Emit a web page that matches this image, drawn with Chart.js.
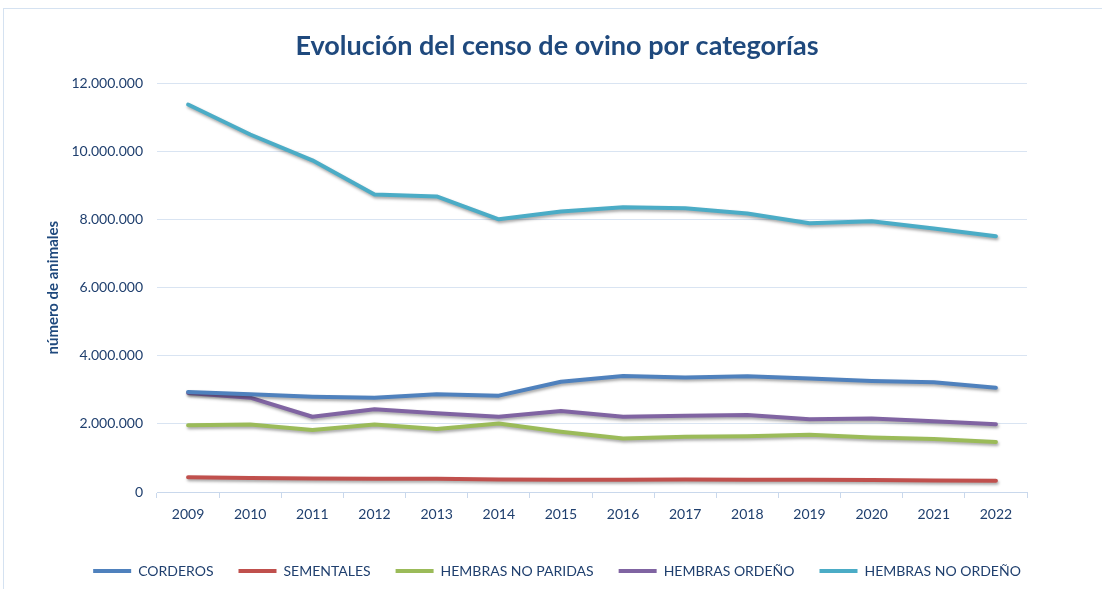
<!DOCTYPE html>
<html>
<head>
<meta charset="utf-8">
<script src="https://cdn.jsdelivr.net/npm/chart.js@4/dist/chart.umd.min.js"></script>
<style>
  html, body { margin: 0; padding: 0; background: #fff; }
  #frame {
    position: absolute; left: 3px; top: 8px; width: 1110px; height: 600px;
    border-left: 1px solid #d5e2f1; border-top: 1px solid #d5e2f1;
  }
  #wrap { position: absolute; left: 0; top: 0; width: 1102px; height: 589px; }
</style>
</head>
<body>
<div id="frame"></div>
<div id="wrap"><canvas id="chart"></canvas></div>
<script>
const anios = ["2009", "2010", "2011", "2012", "2013", "2014", "2015", "2016", "2017", "2018", "2019", "2020", "2021", "2022"];

const corderos = [2940000, 2870000, 2800000, 2770000, 2870000, 2830000, 3240000, 3410000, 3360000, 3400000, 3330000, 3260000, 3220000, 3060000];
const sementales = [430000, 410000, 400000, 390000, 390000, 370000, 360000, 360000, 370000, 360000, 360000, 350000, 340000, 330000];
const hembrasNoParidas = [1960000, 1980000, 1820000, 1980000, 1850000, 2010000, 1770000, 1570000, 1620000, 1640000, 1680000, 1600000, 1560000, 1470000];
const hembrasOrdeno = [2910000, 2770000, 2210000, 2430000, 2310000, 2210000, 2380000, 2210000, 2240000, 2260000, 2140000, 2160000, 2080000, 1990000];
const hembrasNoOrdeno = [11380000, 10500000, 9740000, 8740000, 8680000, 8010000, 8240000, 8360000, 8330000, 8180000, 7890000, 7950000, 7740000, 7510000];

const azulTexto = "#1f3f6e";

function serie(label, data, color) {
    return {
        label: label,
        data: data,
        borderColor: color,
        backgroundColor: color,
        borderWidth: 4,
        pointRadius: 0,
        pointHoverRadius: 0,
        pointStyle: "line",
        tension: 0,
        borderCapStyle: "round",
        borderJoinStyle: "round",
    };
}

// sombra suave bajo las lineas
const sombra = {
    id: "sombra",
    beforeDatasetsDraw(chart) {
        const ctx = chart.ctx;
        ctx.save();
        ctx.shadowColor = "rgba(0, 0, 0, 0.35)";
        ctx.shadowBlur = 3;
        ctx.shadowOffsetX = 1;
        ctx.shadowOffsetY = 2;
    },
    afterDatasetsDraw(chart) {
        chart.ctx.restore();
    },
};

new Chart(document.getElementById("chart"), {
    type: "line",
    data: {
        labels: anios,
        datasets: [
            serie("CORDEROS", corderos, "#4f81bd"),
            serie("SEMENTALES", sementales, "#c0504d"),
            serie("HEMBRAS NO PARIDAS", hembrasNoParidas, "#9bbb59"),
            serie("HEMBRAS ORDEÑO", hembrasOrdeno, "#8064a2"),
            serie("HEMBRAS NO ORDEÑO", hembrasNoOrdeno, "#4bacc6"),
        ],
    },
    options: {
        responsive: true,
        maintainAspectRatio: false,
        animation: false,
        layout: {
            padding: { left: 38, right: 26, top: 30, bottom: 1 },
        },
        plugins: {
            title: {
                display: true,
                text: "Evolución del censo de ovino por categorías",
                color: "#1f497d",
                font: { family: "Lato", size: 27, weight: "bold" },
                padding: { top: 0, bottom: 21 },
            },
            legend: {
                position: "bottom",
                labels: {
                    color: azulTexto,
                    font: { family: "Lato", size: 14 },
                    usePointStyle: true,
                    pointStyleWidth: 38,
                    boxHeight: 5,
                    padding: 25,
                },
            },
            tooltip: { enabled: false },
        },
        scales: {
            x: {
                offset: true,
                afterFit: (scale) => {
                    scale.height = 47;
                },
                grid: {
                    offset: true,
                    drawOnChartArea: false,
                    drawTicks: true,
                    tickLength: 6,
                    color: "#c9d8ec",
                },
                border: { color: "#c9d8ec" },
                ticks: {
                    color: azulTexto,
                    font: { family: "Lato", size: 14 },
                    padding: 8,
                    maxRotation: 0,
                },
            },
            y: {
                min: 0,
                max: 12000000,
                afterFit: (scale) => {
                    scale.width = 119;
                },
                grid: { color: "#d9e4f2", drawTicks: false },
                border: { display: false },
                ticks: {
                    stepSize: 2000000,
                    color: azulTexto,
                    font: { family: "Lato", size: 14 },
                    padding: 14,
                    callback: (v) => v.toString().replace(/\B(?=(\d{3})+(?!\d))/g, "."),
                },
                title: {
                    display: true,
                    text: "número de animales",
                    color: "#1f497d",
                    font: { family: "Lato", size: 15, weight: "bold" },
                    padding: { top: 6, bottom: 0 },
                },
            },
            // eje vacio a la derecha, solo reserva el hueco del grafico original
            derecha: {
                type: "linear",
                position: "right",
                afterFit: (scale) => {
                    scale.width = 49;
                },
                grid: { drawOnChartArea: false, drawTicks: false },
                border: { display: false },
                ticks: { display: false },
            },
        },
    },
    plugins: [sombra],
});
</script>
</body>
</html>
